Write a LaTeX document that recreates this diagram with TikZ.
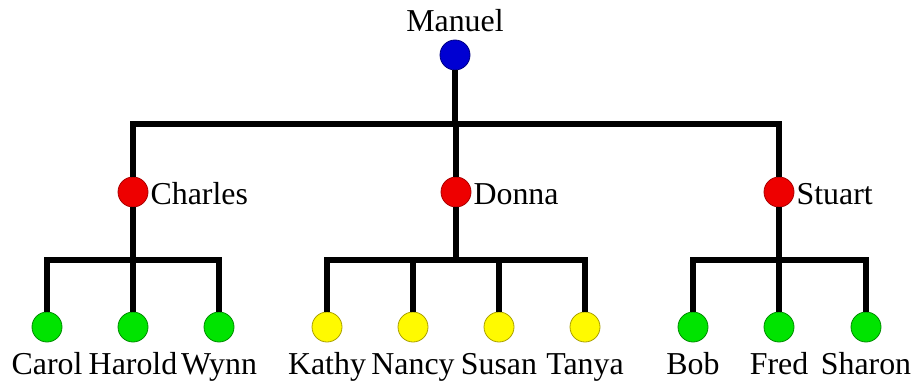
\documentclass[tikz,border=0pt]{standalone}
\usepackage{fontspec}
\setmainfont{Liberation Serif}
\usetikzlibrary{positioning}

\definecolor{topblue}{RGB}{0,0,210}
\definecolor{topblueline}{RGB}{0,0,130}
\definecolor{parentred}{RGB}{238,0,0}
\definecolor{parentredline}{RGB}{170,0,0}
\definecolor{kidgreen}{RGB}{0,228,0}
\definecolor{kidgreenline}{RGB}{0,140,0}
\definecolor{kidyellow}{RGB}{255,250,0}
\definecolor{kidyellowline}{RGB}{170,160,0}

\tikzset{
  person/.style={circle,minimum size=30bp,inner sep=0pt,line width=0.8bp},
  grandpa/.style={person,fill=topblue,draw=topblueline},
  parent/.style={person,fill=parentred,draw=parentredline},
  greenkid/.style={person,fill=kidgreen,draw=kidgreenline},
  yellowkid/.style={person,fill=kidyellow,draw=kidyellowline},
  link/.style={line width=5.5bp},
  nametxt/.style={inner sep=0pt}
}

\begin{document}
\begin{tikzpicture}[x=1bp,y=1bp,font=\fontsize{32}{38}\selectfont]
\useasboundingbox (0,0) rectangle (915,390);
% grandfather
\node[grandpa] (manuel) at (455,335) {};
\node[nametxt,anchor=base] (manuel-txt) at ([yshift=8]manuel.north) {Manuel};
% his children
\node[parent] (charles) at (133,198) {};
\node[parent] (donna) at (456,198) {};
\node[parent] (stuart) at (779,198) {};
\foreach \p/\t in {charles/Charles,donna/Donna,stuart/Stuart}
  {\node[nametxt,anchor=base west] (\p-txt) at ([xshift=2,yshift=-13]\p.east) {\t};}
\coordinate (mj) at (455,266);
\draw[link] (manuel) -- (mj);
\draw[link] (mj) -| (charles);
\draw[link] (mj) -| (stuart);
\draw[link] (mj) -| (donna);
% grandchildren
\foreach \p/\x in {charles/133,donna/456,stuart/779}
  {\coordinate (\p-j) at (\x,130); \draw[link] (\p) -- (\p-j);}
\foreach \n/\x/\t/\c/\p in {carol/47/Carol/greenkid/charles,harold/133/Harold/greenkid/charles,
    wynn/219/Wynn/greenkid/charles,kathy/327/Kathy/yellowkid/donna,nancy/413/Nancy/yellowkid/donna,
    susan/499/Susan/yellowkid/donna,tanya/585/Tanya/yellowkid/donna,bob/693/Bob/greenkid/stuart,
    fred/779/Fred/greenkid/stuart,sharon/866/Sharon/greenkid/stuart}
  {\node[\c] (\n) at (\x,63) {};
   \node[nametxt,anchor=base] (\n-txt) at ([yshift=-48]\n.center) {\t};
   \draw[link] (\p-j) -| (\n);}
\end{tikzpicture}
\end{document}
